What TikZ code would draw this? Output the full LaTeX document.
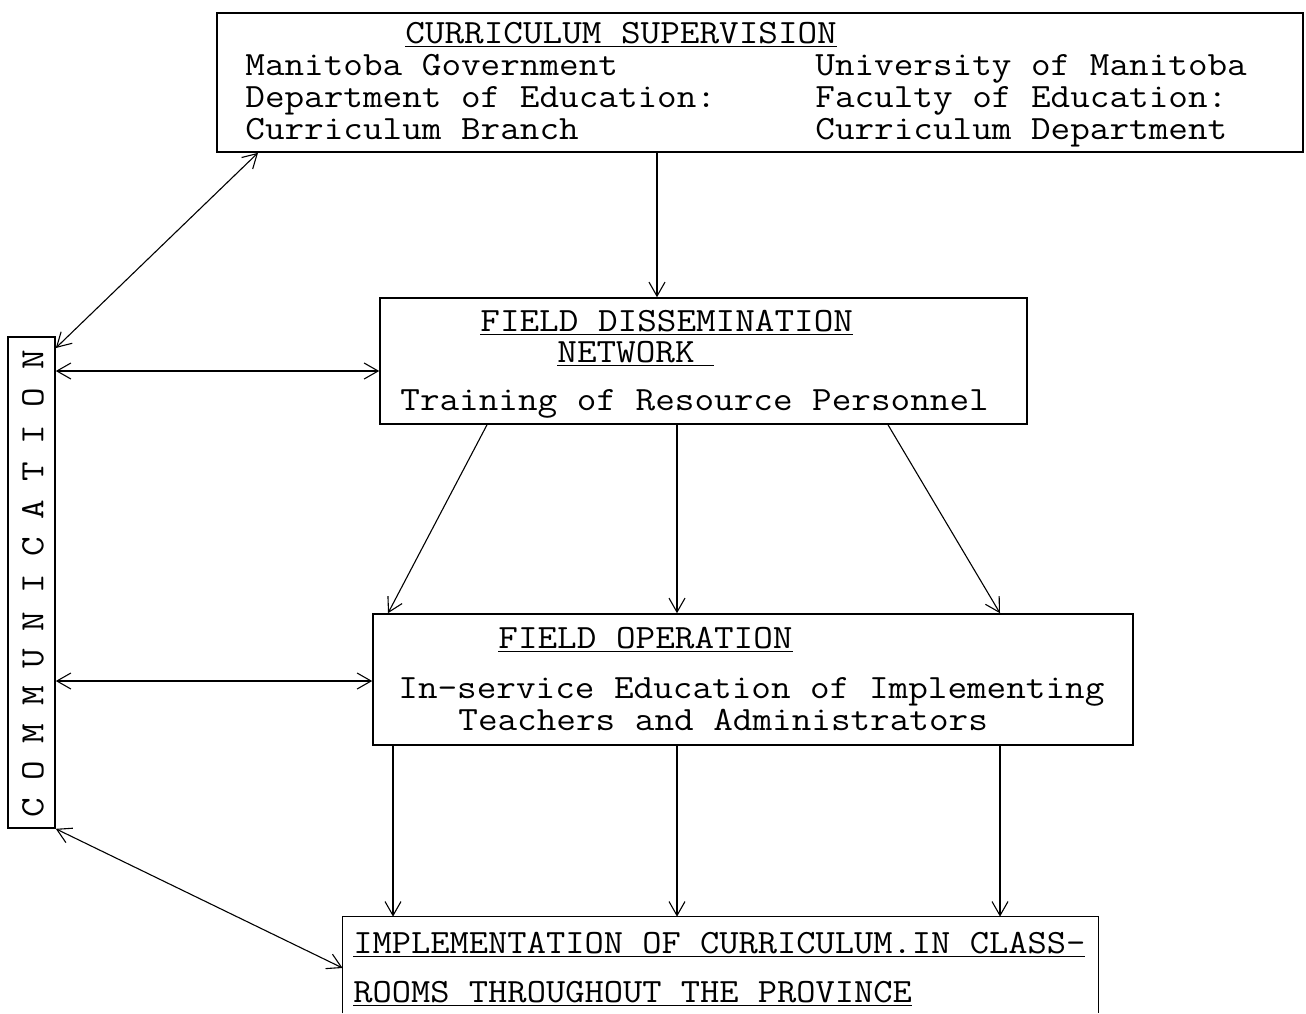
\documentclass[tikz,border=0pt]{standalone}
\usepackage{fontspec}
\usepackage{graphicx}
\usetikzlibrary{arrows.meta,calc}
\newcommand{\twx}[1]{\scalebox{1.12}[1]{#1}}
\newcommand{\twn}[1]{\scalebox{1.1}[1]{#1}}
\begin{document}
\begin{tikzpicture}[x=0.5pt,y=-0.5pt,
  boxs/.style={draw, line width=0.8pt, inner sep=0pt},
  txt/.style={anchor=west, inner sep=0pt, text height=10.4pt, text depth=0pt, font=\ttfamily\fontsize{17pt}{20pt}\selectfont},
  conn/.style={line width=0.55pt, -{Straight Barb[length=7pt,width=8pt]}},
  dconn/.style={line width=0.55pt, {Straight Barb[length=7pt,width=8pt]}-{Straight Barb[length=7pt,width=8pt]}}]
\useasboundingbox (0,0) rectangle (1306,1013);
% boxes
\node[boxs, minimum width=543pt, minimum height=69.5pt] (top) at (760,82.5) {};
\node[boxs, minimum width=323.5pt, minimum height=63pt] (fdn) at (703.5,361) {};
\node[boxs, minimum width=380pt, minimum height=65.5pt] (fo) at (753,679.5) {};
\node[inner sep=0pt, minimum width=377.5pt, minimum height=48pt] (impl) at (720.5,965) {};
\draw[line width=0.8pt] (impl.south west) -- (impl.north west) -- (impl.north east) -- (impl.south east);
\node[boxs, minimum width=23.5pt, minimum height=245.5pt] (comm) at (31.5,582.5) {};
% texts
\node[txt] (t1) at (405,33) {\twx{\underline{CURRICULUM SUPERVISION}}};
\node[txt] (t2) at (245,65) {\twx{Manitoba Government}};
\node[txt] (t3) at (245,97) {\twx{Department of Education:}};
\node[txt] (t4) at (245,129) {\twx{Curriculum Branch}};
\node[txt] (t5) at (815,65) {\twx{University of Manitoba}};
\node[txt] (t6) at (815,97) {\twx{Faculty of Education:}};
\node[txt] (t7) at (815,129) {\twx{Curriculum Department}};
\node[txt] (f1) at (480,321) {\twx{\underline{FIELD DISSEMINATION}}};
\node[txt] (f2) at (557,352) {\twx{\underline{NETWORK\ }}};
\node[txt] (f3) at (400,400) {\twx{Training of Resource Personnel}};
\node[txt] (o1) at (498,638) {\twx{\underline{FIELD OPERATION}}};
\node[txt] (o2) at (398,688) {\twx{In-service Education of Implementing}};
\node[txt] (o3) at (458,720) {\twx{Teachers and Administrators}};
\node[txt] (i1) at (353,943) {\twn{\underline{IMPLEMENTATION OF CURRICULUM.IN CLASS-}}};
\node[txt] (i2) at (353,992) {\twn{\underline{ROOMS THROUGHOUT THE PROVINCE}}};
\foreach \l [count=\i from 0] in {C,O,M,M,U,N,I,C,A,T,I,O,N}{
  \node[txt, anchor=center, rotate=90] (cl\i) at (33,{808-\i*37.33}) {\twx{\l}};
}
% helper coordinates
\foreach \v in {258,388,393,487,657,677,888,1000}{\coordinate (x\v) at (\v,0);}
\foreach \v in {348,371,681,968}{\coordinate (y\v) at (0,\v);}
% connectors
\draw[conn] (top.south -| x657) -- (fdn.north -| x657);
\draw[dconn] (top.south -| x258) -- (comm.east |- y348);
\draw[dconn] (comm.east |- y371) -- (fdn.west |- y371);
\draw[conn] (fdn.south -| x487) -- (fo.north -| x388);
\draw[conn] (fdn.south -| x677) -- (fo.north -| x677);
\draw[conn] (fdn.south -| x888) -- (fo.north -| x1000);
\draw[dconn] (comm.east |- y681) -- (fo.west |- y681);
\draw[conn] (fo.south -| x393) -- (impl.north -| x393);
\draw[conn] (fo.south -| x677) -- (impl.north -| x677);
\draw[conn] (fo.south -| x1000) -- (impl.north -| x1000);
\draw[dconn] (comm.south east) -- (impl.west |- y968);
\end{tikzpicture}
\end{document}
